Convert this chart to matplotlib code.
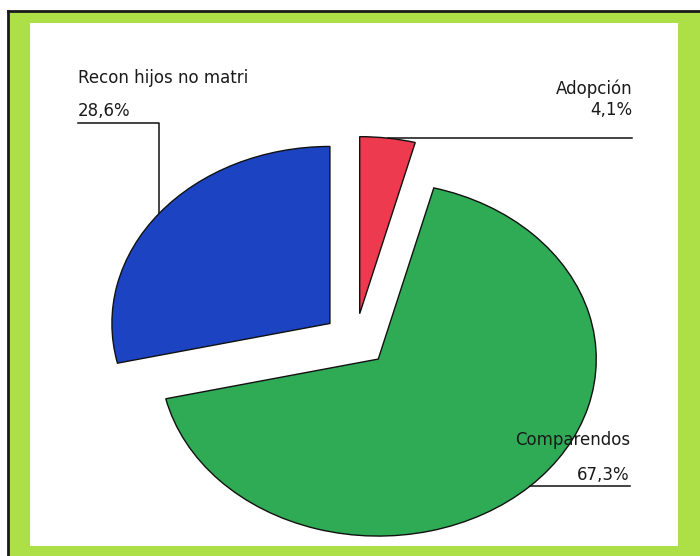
import numpy as np
import matplotlib
matplotlib.use('Agg')
import matplotlib.pyplot as plt
from matplotlib.patches import Rectangle
from matplotlib.lines import Line2D

# Distribución de procesos
labels = ['Adopción', 'Comparendos', 'Recon hijos no matri']
values = [4.1, 67.3, 28.6]
value_text = ['4,1%', '67,3%', '28,6%']
colors = ['#ee3a4e', '#2fab55', '#1c44c2']

W, H = 700, 556
fig = plt.figure(figsize=(W / 100, H / 100), dpi=100, facecolor='white')


def fx(px):
    return px / W


def fy(py):
    return 1 - py / H


# marco verde con sombra negra arriba e izquierda
fig.add_artist(Rectangle((fx(8), 0), 1 - fx(8), fy(11),
                         transform=fig.transFigure, facecolor='#addf47',
                         edgecolor='none', zorder=-3))
fig.add_artist(Rectangle((fx(30), fy(546)), fx(648), fy(23) - fy(546),
                         transform=fig.transFigure, facecolor='white',
                         edgecolor='none', zorder=-2))
fig.add_artist(Line2D([fx(8), 1], [fy(11), fy(11)], transform=fig.transFigure,
                      color='#1a1a1a', lw=2, zorder=-1))
fig.add_artist(Line2D([fx(8), fx(8)], [0, fy(11)], transform=fig.transFigure,
                      color='#1a1a1a', lw=2, zorder=-1))

ax = fig.add_axes([0, 0, 1, 1])
ax.patch.set_alpha(0)

wedges, _ = ax.pie(values, colors=colors, startangle=90, counterclock=False,
                   explode=[0.15, 0.15, 0.15],
                   wedgeprops=dict(edgecolor='#111111', linewidth=1.0))

# la torta va estirada en horizontal
cx, cy, rx, ry = 355.5, 340, 218, 177
ax.set_aspect('auto')
ax.set_xlim(-cx / rx, (W - cx) / rx)
ax.set_ylim(-(H - cy) / ry, cy / ry)
ax.axis('off')


def dx(px):
    return (px - cx) / rx


def dy(py):
    return (cy - py) / ry


def arc_mid(w):
    a = np.deg2rad((w.theta1 + w.theta2) / 2)
    x0, y0 = w.center
    return x0 + w.r * np.cos(a), y0 + w.r * np.sin(a)


txt = dict(fontsize=12, color='#1a1a1a', family='DejaVu Sans')
lk = dict(color='#111111', lw=1.1)

# Adopción
x0, y0 = arc_mid(wedges[0])
ax.plot([x0, dx(632)], [y0, y0], **lk)
ax.text(dx(632), dy(94), labels[0], ha='right', va='baseline', **txt)
ax.text(dx(632), dy(115), value_text[0], ha='right', va='baseline', **txt)

# Comparendos
x0, y0 = arc_mid(wedges[1])
ax.plot([x0, dx(630)], [y0, y0], **lk)
ax.text(dx(630), dy(445), labels[1], ha='right', va='baseline', **txt)
ax.text(dx(630), dy(480), value_text[1], ha='right', va='baseline', **txt)

# Recon hijos no matri
x0, y0 = arc_mid(wedges[2])
ax.plot([x0, x0, dx(78)], [y0, dy(123), dy(123)], **lk)
ax.text(dx(78), dy(83), labels[2], ha='left', va='baseline', **txt)
ax.text(dx(78), dy(116), value_text[2], ha='left', va='baseline', **txt)

fig.savefig('out.png', dpi=100, facecolor=fig.get_facecolor())
